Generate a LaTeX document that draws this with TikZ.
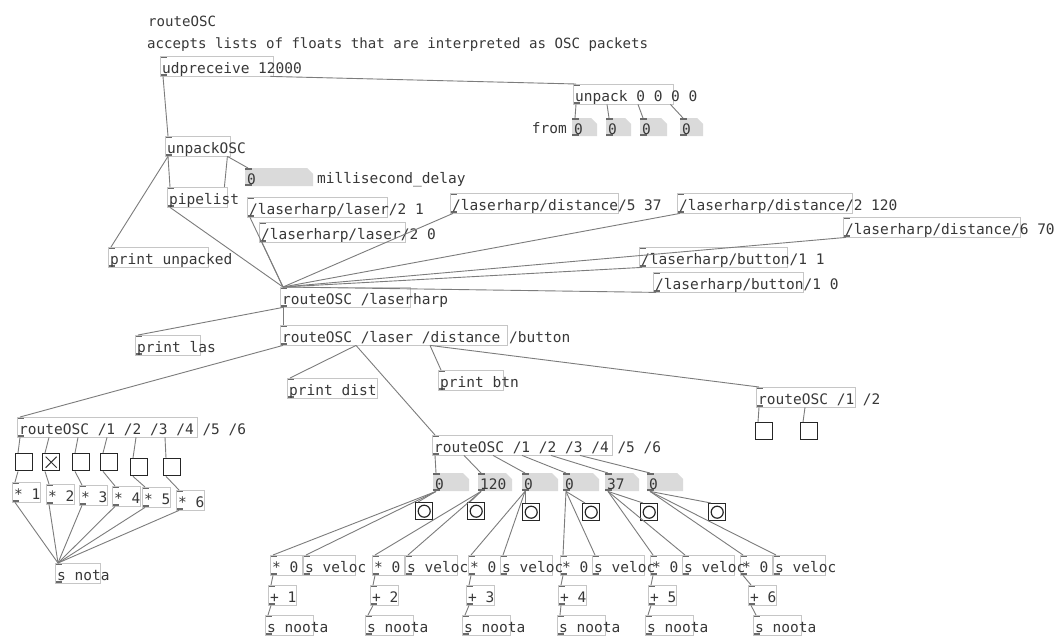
\documentclass[tikz,border=0pt]{standalone}
\usepackage{fontspec}
\usepackage{tikz}
\newfontfamily\pdmono{DejaVu Sans Mono}
\newcommand{\pdsize}{\fontsize{14.5}{17}\selectfont}

\definecolor{boxgray}{HTML}{C6C6C6}
\definecolor{wiregray}{HTML}{7C7C7C}
\definecolor{atomgray}{HTML}{DADADA}
\definecolor{iogray}{HTML}{6A6A6A}
\definecolor{inkgray}{HTML}{383838}

\begin{document}
\begin{tikzpicture}[x=1pt,y=-1pt,font=\pdmono\pdsize,text=inkgray]
    \tikzset{
        note/.style={inner sep=0pt},
        pdobj/.style={draw=boxgray,anchor=north west,inner sep=0pt,
            minimum width=#1,minimum height=20,text width=#1pt,
            text height=15pt,text depth=0pt,
            execute at begin node={\spaceskip=0pt\xspaceskip=0pt\hspace*{2pt}},
            path picture={
                \fill[iogray] (path picture bounding box.north west) rectangle ++(7,2);
                \fill[iogray] (path picture bounding box.south west) rectangle ++(7,-2);}},
        msg/.style={pdobj=#1},
        atom/.style={anchor=north west,inner sep=0pt,
            minimum width=#1,minimum height=18,text width=#1pt,
            text height=15pt,text depth=0pt,
            execute at begin node=\hspace*{2pt},
            path picture={
                \fill[atomgray] (path picture bounding box.south west)
                    -- (path picture bounding box.north west)
                    -- ([xshift=-6pt]path picture bounding box.north east)
                    -- ([yshift=-6pt]path picture bounding box.north east)
                    -- (path picture bounding box.south east) -- cycle;
                \fill[iogray] (path picture bounding box.north west) rectangle ++(7,2);
                \fill[iogray] (path picture bounding box.south west) rectangle ++(7,-2);}},
        tgl/.style={draw=black!85,line width=1.4pt,anchor=north west,
            inner sep=0pt,minimum size=17},
        tglon/.style={tgl,path picture={
            \draw[black!80,line width=1pt]
                ([shift={(3,3)}]path picture bounding box.north west)
                -- ([shift={(-3,-3)}]path picture bounding box.south east);
            \draw[black!80,line width=1pt]
                ([shift={(-3,3)}]path picture bounding box.north east)
                -- ([shift={(3,-3)}]path picture bounding box.south west);}},
        bng/.style={tgl,path picture={
            \draw[black!85,line width=1.2pt]
                (path picture bounding box.center) circle (6);}},
        wire/.style={draw=wiregray,line width=0.9pt}
    }

    \fill[white] (0,0) rectangle (1062,635);
    \useasboundingbox (0,0) rectangle (1062,635);

    % header
    \node[note,anchor=base west,font=\pdmono\fontsize{14.1}{17}\selectfont]
        (title) at (148,26) {routeOSC};
    \node[note,anchor=base west,font=\pdmono\fontsize{14.1}{17}\selectfont]
        (about) at (147,48)
        {accepts lists of floats that are interpreted as OSC packets};

    % receiving side
    \node[pdobj=113] (udp) at (160,56) {\rlap{udpreceive 12000}};
    \node[pdobj=100] (unpack) at (573,84) {\rlap{unpack 0 0 0 0}};
    \node[note,anchor=base east] (from) at (567,133) {from};
    \node[atom=25] (ip1) at (572,118) {0};
    \node[atom=25] (ip2) at (606,118) {0};
    \node[atom=27] (ip3) at (640,118) {0};
    \node[atom=23] (ip4) at (680,118) {0};

    \node[pdobj=65] (unosc) at (165,136) {\rlap{unpackOSC}};
    \node[atom=68] (delay) at (245,168) {0};
    \node[note,anchor=base west] (delaylbl) at (317,183) {millisecond\_delay};
    \node[pdobj=60] (pipe) at (167,187) {\rlap{pipelist}};
    \node[pdobj=100] (printunp) at (108,247) {\rlap{print unpacked}};

    % test messages
    \node[msg=140] (las1) at (247,197) {\rlap{/laserharp/laser/2 1}};
    \node[msg=146] (las0) at (259,222) {\rlap{/laserharp/laser/2 0}};
    \node[msg=168] (dist5) at (450,193) {\rlap{/laserharp/distance/5 37}};
    \node[msg=175] (dist2) at (677,193) {\rlap{/laserharp/distance/2 120}};
    \node[msg=177] (dist6) at (843,217) {\rlap{/laserharp/distance/6 70}};
    \node[msg=148] (btn1) at (639,247) {\rlap{/laserharp/button/1 1}};
    \node[msg=150] (btn0) at (653,272) {\rlap{/laserharp/button/1 0}};

    % routing
    \node[pdobj=130] (rharp) at (280,287) {\rlap{routeOSC /laserharp}};
    \node[pdobj=65] (printlas) at (135,335) {\rlap{print las}};
    \node[pdobj=227] (rsub) at (280,325) {\rlap{routeOSC /laser /distance /button}};
    \node[pdobj=90] (printdist) at (287,378) {\rlap{print dist}};
    \node[pdobj=65] (printbtn) at (438,370) {\rlap{print btn}};
    \node[pdobj=99] (rbtn) at (756,387) {\rlap{routeOSC /1 /2}};
    \node[tgl] (bt1) at (755,422) {};
    \node[tgl] (bt2) at (800,422) {};

    % laser branch
    \node[pdobj=180] (rlas) at (17,417) {\rlap{routeOSC /1 /2 /3 /4 /5 /6}};
    \node[tgl] (t1) at (15,453) {};
    \node[tglon] (t2) at (42,453) {};
    \node[tgl] (t3) at (72,453) {};
    \node[tgl] (t4) at (100,453) {};
    \node[tgl] (t5) at (130,458) {};
    \node[tgl] (t6) at (163,458) {};
    \node[pdobj=28] (mul1) at (12,482) {\rlap{* 1}};
    \node[pdobj=28] (mul2) at (46,484) {\rlap{* 2}};
    \node[pdobj=28] (mul3) at (79,485) {\rlap{* 3}};
    \node[pdobj=28] (mul4) at (112,486) {\rlap{* 4}};
    \node[pdobj=28] (mul5) at (142,487) {\rlap{* 5}};
    \node[pdobj=28] (mul6) at (176,490) {\rlap{* 6}};
    \node[pdobj=45] (snota) at (55,563) {\rlap{s nota}};

    % distance branch
    \node[pdobj=180] (rdist) at (432,435) {\rlap{routeOSC /1 /2 /3 /4 /5 /6}};
    \node[atom=36] (d1) at (433,473) {0};
    \node[atom=34] (d2) at (478,473) {120};
    \node[atom=36] (d3) at (522,473) {0};
    \node[atom=36] (d4) at (563,473) {0};
    \node[atom=34] (d5) at (605,473) {37};
    \node[atom=36] (d6) at (647,473) {0};
    \node[bng] (b1) at (415,502) {};
    \node[bng] (b2) at (467,502) {};
    \node[bng] (b3) at (522,503) {};
    \node[bng] (b4) at (582,503) {};
    \node[bng] (b5) at (640,503) {};
    \node[bng] (b6) at (708,503) {};

    \node[pdobj=32] (z1) at (270,555) {\rlap{* 0}};
    \node[pdobj=32] (z2) at (372,555) {\rlap{* 0}};
    \node[pdobj=32] (z3) at (468,555) {\rlap{* 0}};
    \node[pdobj=32] (z4) at (560,555) {\rlap{* 0}};
    \node[pdobj=32] (z5) at (650,555) {\rlap{* 0}};
    \node[pdobj=32] (z6) at (740,555) {\rlap{* 0}};
    \node[pdobj=52] (v1) at (303,555) {\rlap{s veloc}};
    \node[pdobj=52] (v2) at (405,555) {\rlap{s veloc}};
    \node[pdobj=52] (v3) at (500,555) {\rlap{s veloc}};
    \node[pdobj=52] (v4) at (592,555) {\rlap{s veloc}};
    \node[pdobj=52] (v5) at (682,555) {\rlap{s veloc}};
    \node[pdobj=52] (v6) at (773,555) {\rlap{s veloc}};
    \node[pdobj=28] (a1) at (268,585) {\rlap{+ 1}};
    \node[pdobj=28] (a2) at (370,585) {\rlap{+ 2}};
    \node[pdobj=28] (a3) at (466,585) {\rlap{+ 3}};
    \node[pdobj=28] (a4) at (558,585) {\rlap{+ 4}};
    \node[pdobj=28] (a5) at (648,585) {\rlap{+ 5}};
    \node[pdobj=28] (a6) at (748,585) {\rlap{+ 6}};
    \node[pdobj=48] (n1) at (265,615) {\rlap{s noota}};
    \node[pdobj=48] (n2) at (365,615) {\rlap{s noota}};
    \node[pdobj=48] (n3) at (462,615) {\rlap{s noota}};
    \node[pdobj=48] (n4) at (557,615) {\rlap{s noota}};
    \node[pdobj=48] (n5) at (645,615) {\rlap{s noota}};
    \node[pdobj=48] (n6) at (753,615) {\rlap{s noota}};

    % wires: receiving side
    \draw[wire] ([xshift=3pt]udp.south west) -- ([xshift=3pt]unosc.north west);
    \draw[wire] ([xshift=-3pt]udp.south east) -- ([xshift=3pt]unpack.north west);
    \draw[wire] ([xshift=3pt]unpack.south west) -- ([xshift=3pt]ip1.north west);
    \draw[wire] ([xshift=34pt]unpack.south west) -- ([xshift=3pt]ip2.north west);
    \draw[wire] ([xshift=65pt]unpack.south west) -- ([xshift=3pt]ip3.north west);
    \draw[wire] ([xshift=-3pt]unpack.south east) -- ([xshift=3pt]ip4.north west);
    \draw[wire] ([xshift=3pt]unosc.south west) -- ([xshift=3pt]pipe.north west);
    \draw[wire] ([xshift=3pt]unosc.south west) -- ([xshift=3pt]printunp.north west);
    \draw[wire] ([xshift=-3pt]unosc.south east) -- ([xshift=-3pt]pipe.north east);
    \draw[wire] ([xshift=-3pt]unosc.south east) -- ([xshift=3pt]delay.north west);

    % wires: into routeOSC /laserharp
    \draw[wire] ([xshift=3pt]pipe.south west) -- ([xshift=3pt]rharp.north west);
    \draw[wire] ([xshift=3pt]las1.south west) -- ([xshift=3pt]rharp.north west);
    \draw[wire] ([xshift=3pt]las0.south west) -- ([xshift=3pt]rharp.north west);
    \draw[wire] ([xshift=3pt]dist5.south west) -- ([xshift=3pt]rharp.north west);
    \draw[wire] ([xshift=3pt]dist2.south west) -- ([xshift=3pt]rharp.north west);
    \draw[wire] ([xshift=3pt]dist6.south west) -- ([xshift=3pt]rharp.north west);
    \draw[wire] ([xshift=3pt]btn1.south west) -- ([xshift=3pt]rharp.north west);
    \draw[wire] ([xshift=3pt]btn0.south west) -- ([xshift=3pt]rharp.north west);

    % wires: routing
    \draw[wire] ([xshift=3pt]rharp.south west) -- ([xshift=3pt]rsub.north west);
    \draw[wire] ([xshift=3pt]rharp.south west) -- ([xshift=3pt]printlas.north west);
    \draw[wire] ([xshift=3pt]rsub.south west) -- ([xshift=3pt]rlas.north west);
    \draw[wire] ([xshift=76pt]rsub.south west) -- ([xshift=3pt]printdist.north west);
    \draw[wire] ([xshift=76pt]rsub.south west) -- ([xshift=3pt]rdist.north west);
    \draw[wire] ([xshift=150pt]rsub.south west) -- ([xshift=3pt]printbtn.north west);
    \draw[wire] ([xshift=150pt]rsub.south west) -- ([xshift=3pt]rbtn.north west);
    \draw[wire] ([xshift=3pt]rbtn.south west) -- ([xshift=3pt]bt1.north west);
    \draw[wire] ([xshift=49pt]rbtn.south west) -- ([xshift=3pt]bt2.north west);

    % wires: laser branch
    \draw[wire] ([xshift=3pt]rlas.south west) -- ([xshift=3pt]t1.north west);
    \draw[wire] ([xshift=32pt]rlas.south west) -- ([xshift=3pt]t2.north west);
    \draw[wire] ([xshift=61pt]rlas.south west) -- ([xshift=3pt]t3.north west);
    \draw[wire] ([xshift=90pt]rlas.south west) -- ([xshift=3pt]t4.north west);
    \draw[wire] ([xshift=119pt]rlas.south west) -- ([xshift=3pt]t5.north west);
    \draw[wire] ([xshift=148pt]rlas.south west) -- ([xshift=3pt]t6.north west);
    \draw[wire] ([xshift=3pt]t1.south west) -- ([xshift=3pt]mul1.north west);
    \draw[wire] ([xshift=3pt]t2.south west) -- ([xshift=3pt]mul2.north west);
    \draw[wire] ([xshift=3pt]t3.south west) -- ([xshift=3pt]mul3.north west);
    \draw[wire] ([xshift=3pt]t4.south west) -- ([xshift=3pt]mul4.north west);
    \draw[wire] ([xshift=3pt]t5.south west) -- ([xshift=3pt]mul5.north west);
    \draw[wire] ([xshift=3pt]t6.south west) -- ([xshift=3pt]mul6.north west);
    \draw[wire] ([xshift=3pt]mul1.south west) -- ([xshift=3pt]snota.north west);
    \draw[wire] ([xshift=3pt]mul2.south west) -- ([xshift=3pt]snota.north west);
    \draw[wire] ([xshift=3pt]mul3.south west) -- ([xshift=3pt]snota.north west);
    \draw[wire] ([xshift=3pt]mul4.south west) -- ([xshift=3pt]snota.north west);
    \draw[wire] ([xshift=3pt]mul5.south west) -- ([xshift=3pt]snota.north west);
    \draw[wire] ([xshift=3pt]mul6.south west) -- ([xshift=3pt]snota.north west);

    % wires: distance branch
    \draw[wire] ([xshift=3pt]rdist.south west) -- ([xshift=3pt]d1.north west);
    \draw[wire] ([xshift=32pt]rdist.south west) -- ([xshift=3pt]d2.north west);
    \draw[wire] ([xshift=61pt]rdist.south west) -- ([xshift=3pt]d3.north west);
    \draw[wire] ([xshift=90pt]rdist.south west) -- ([xshift=3pt]d4.north west);
    \draw[wire] ([xshift=119pt]rdist.south west) -- ([xshift=3pt]d5.north west);
    \draw[wire] ([xshift=148pt]rdist.south west) -- ([xshift=3pt]d6.north west);
    \draw[wire] ([xshift=3pt]d1.south west) -- ([xshift=3pt]b1.north west);
    \draw[wire] ([xshift=3pt]d2.south west) -- ([xshift=3pt]b2.north west);
    \draw[wire] ([xshift=3pt]d3.south west) -- ([xshift=3pt]b3.north west);
    \draw[wire] ([xshift=3pt]d4.south west) -- ([xshift=3pt]b4.north west);
    \draw[wire] ([xshift=3pt]d5.south west) -- ([xshift=3pt]b5.north west);
    \draw[wire] ([xshift=3pt]d6.south west) -- ([xshift=3pt]b6.north west);
    \draw[wire] ([xshift=3pt]d1.south west) -- ([xshift=3pt]z1.north west);
    \draw[wire] ([xshift=3pt]d2.south west) -- ([xshift=3pt]z2.north west);
    \draw[wire] ([xshift=3pt]d3.south west) -- ([xshift=3pt]z3.north west);
    \draw[wire] ([xshift=3pt]d4.south west) -- ([xshift=3pt]z4.north west);
    \draw[wire] ([xshift=3pt]d5.south west) -- ([xshift=3pt]z5.north west);
    \draw[wire] ([xshift=3pt]d6.south west) -- ([xshift=3pt]z6.north west);
    \draw[wire] ([xshift=3pt]d1.south west) -- ([xshift=3pt]v1.north west);
    \draw[wire] ([xshift=3pt]d2.south west) -- ([xshift=3pt]v2.north west);
    \draw[wire] ([xshift=3pt]d3.south west) -- ([xshift=3pt]v3.north west);
    \draw[wire] ([xshift=3pt]d4.south west) -- ([xshift=3pt]v4.north west);
    \draw[wire] ([xshift=3pt]d5.south west) -- ([xshift=3pt]v5.north west);
    \draw[wire] ([xshift=3pt]d6.south west) -- ([xshift=3pt]v6.north west);
    \draw[wire] ([xshift=3pt]z1.south west) -- ([xshift=3pt]a1.north west);
    \draw[wire] ([xshift=3pt]z2.south west) -- ([xshift=3pt]a2.north west);
    \draw[wire] ([xshift=3pt]z3.south west) -- ([xshift=3pt]a3.north west);
    \draw[wire] ([xshift=3pt]z4.south west) -- ([xshift=3pt]a4.north west);
    \draw[wire] ([xshift=3pt]z5.south west) -- ([xshift=3pt]a5.north west);
    \draw[wire] ([xshift=3pt]z6.south west) -- ([xshift=3pt]a6.north west);
    \draw[wire] ([xshift=3pt]a1.south west) -- ([xshift=3pt]n1.north west);
    \draw[wire] ([xshift=3pt]a2.south west) -- ([xshift=3pt]n2.north west);
    \draw[wire] ([xshift=3pt]a3.south west) -- ([xshift=3pt]n3.north west);
    \draw[wire] ([xshift=3pt]a4.south west) -- ([xshift=3pt]n4.north west);
    \draw[wire] ([xshift=3pt]a5.south west) -- ([xshift=3pt]n5.north west);
    \draw[wire] ([xshift=3pt]a6.south west) -- ([xshift=3pt]n6.north west);
\end{tikzpicture}
\end{document}
